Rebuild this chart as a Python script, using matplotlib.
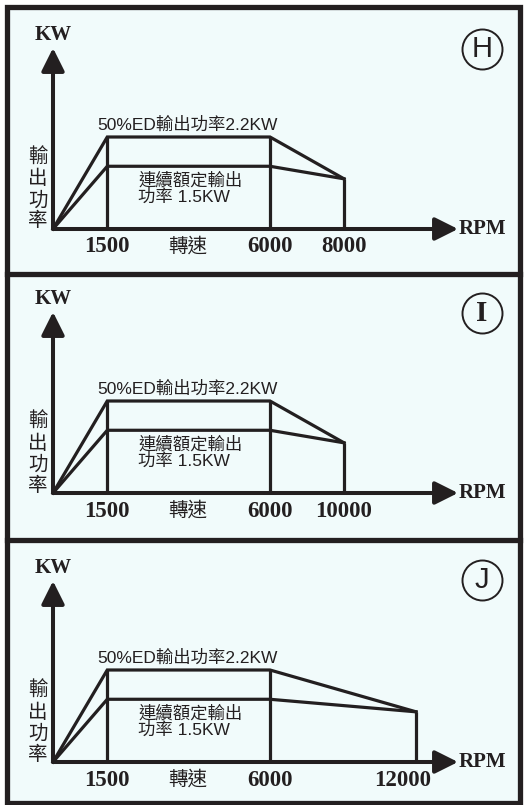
import numpy as np
import matplotlib
matplotlib.use('Agg')
import matplotlib.pyplot as plt
from matplotlib.patches import Rectangle
from matplotlib.lines import Line2D

# ---------------- data ----------------
panel_labels = ['H', 'I', 'J']
max_rpm = [8000, 10000, 12000]
base_rpm = 1500
rated_rpm = 6000
peak_kw = 2.2          # 50%ED output
cont_kw = 1.5          # continuous rated output
end_kw = [1.2, 1.2, 1.2]
tick_rpms = [[1500, 6000, 8000], [1500, 6000, 10000], [1500, 6000, 12000]]
peak_text = '50%ED輸出功率2.2KW'
cont_text = ['連續額定輸出', '功率 1.5KW']
y_title = ['輸', '出', '功', '率']
x_title = '轉速'

# ---------------- layout (pixels) ----------------
W, H = 525, 805
INK = '#231f20'
BG = '#f1fbfb'
panel_top = [7, 274.5, 540]
panel_bot = [274.5, 540, 803]
box_left, box_right = 7, 520
origin_x = 53
origin_y = [229, 493, 762]
px_rated = 217                 # px from origin to rated rpm
px_end = [291, 291, 363]       # px from origin to max rpm
px_per_kw = 92 / 2.2
x_tip_px = 458
y_tip_len = 181
circle_y = [49, 313, 580]
circle_x = 482
label_dx = [[0, 0, 0], [0, 0, 0], [0, 0, -13]]
letter_fonts = [dict(family='Liberation Sans', weight='normal', size=21),
                dict(family='Liberation Serif', weight='bold', size=21),
                dict(family='Liberation Sans', weight='normal', size=21)]

fig = plt.figure(figsize=(W / 100, H / 100), dpi=100, facecolor='white')

# frame
fig.add_artist(Rectangle((box_left / W, 1 - panel_bot[-1] / H),
                         (box_right - box_left) / W,
                         (panel_bot[-1] - panel_top[0]) / H,
                         transform=fig.transFigure, facecolor=BG,
                         edgecolor=INK, lw=3.8, zorder=0))
for yy in panel_bot[:-1]:
    fig.add_artist(Line2D([box_left / W, box_right / W], [1 - yy / H, 1 - yy / H],
                          transform=fig.transFigure, color=INK, lw=3.8, zorder=1))


def make_scale(end_rpm, end_px):
    s0 = px_rated / rated_rpm
    s1 = (end_px - px_rated) / (end_rpm - rated_rpm)

    def fwd(r):
        r = np.asarray(r, dtype=float)
        return np.where(r <= rated_rpm, r * s0, px_rated + (r - rated_rpm) * s1)

    def inv(p):
        p = np.asarray(p, dtype=float)
        return np.where(p <= px_rated, p / s0, rated_rpm + (p - px_rated) / s1)
    return fwd, inv


cjk = ['Noto Sans CJK TC']
mixed = ['Liberation Sans', 'Noto Sans CJK TC']

for i in range(3):
    top, bot, oy = panel_top[i], panel_bot[i], origin_y[i]
    ax = fig.add_axes([box_left / W, 1 - bot / H, (box_right - box_left) / W, (bot - top) / H])
    ax.set_facecolor('none')
    ax.axis('off')
    fwd, inv = make_scale(max_rpm[i], px_end[i])
    ax.set_xscale('function', functions=(fwd, inv))
    ax.set_xlim(float(inv(box_left - origin_x)), float(inv(box_right - origin_x)))
    ax.set_ylim(-(bot - oy) / px_per_kw, (oy - top) / px_per_kw)

    xs = [0, base_rpm, rated_rpm, max_rpm[i]]
    ax.plot(xs, [0, peak_kw, peak_kw, end_kw[i]], color=INK, lw=2.3,
            solid_joinstyle='miter', zorder=3)
    ax.plot(xs, [0, cont_kw, cont_kw, end_kw[i]], color=INK, lw=2.3,
            solid_joinstyle='miter', zorder=3)
    ax.vlines([base_rpm, rated_rpm], 0, peak_kw, color=INK, lw=2.3, zorder=3)
    ax.vlines([max_rpm[i]], 0, end_kw[i], color=INK, lw=2.3, zorder=3)

    x_tip = float(inv(x_tip_px - origin_x))
    y_tip = y_tip_len / px_per_kw
    ap = dict(arrowstyle='-|>,head_length=1.0,head_width=0.5', mutation_scale=14,
              lw=2.9, color=INK, shrinkA=0, shrinkB=0)
    ax.annotate('', xy=(x_tip, 0), xytext=(0, 0), arrowprops=ap, zorder=4)
    ax.annotate('', xy=(0, y_tip), xytext=(0, 0), arrowprops=ap, zorder=4)

    ax.annotate('KW', xy=(0, y_tip), xytext=(0, 3), textcoords='offset pixels',
                ha='center', va='bottom', family='Liberation Serif', weight='bold',
                fontsize=15, color=INK)
    ax.annotate('RPM', xy=(x_tip, 0), xytext=(1, 0), textcoords='offset pixels',
                ha='left', va='center', family='Liberation Serif', weight='bold',
                fontsize=15, color=INK)

    for r, dx in zip(tick_rpms[i], label_dx[i]):
        ax.annotate(str(r), xy=(r, 0), xytext=(dx, -18), textcoords='offset pixels',
                    ha='center', va='center', family='Liberation Serif', weight='bold',
                    fontsize=16.5, color=INK)
    ax.annotate(x_title, xy=(0, 0), xytext=(135, -17), textcoords='offset pixels',
                ha='center', va='center', family=cjk, weight='medium', fontsize=14,
                color=INK)

    for ch, dy in zip(y_title, [72, 50, 29, 8]):
        ax.annotate(ch, xy=(0, 0), xytext=(-15, dy), textcoords='offset pixels',
                    ha='center', va='center', family=cjk, weight='medium', fontsize=14,
                    color=INK)

    ax.annotate(peak_text, xy=(base_rpm, peak_kw), xytext=(-10, 12),
                textcoords='offset pixels', ha='left', va='center', family=mixed,
                fontsize=12.5, color=INK)
    for t, dy in zip(cont_text, [-14, -30]):
        ax.annotate(t, xy=(base_rpm, cont_kw), xytext=(31, dy),
                    textcoords='offset pixels', ha='left', va='center', family=mixed,
                    fontsize=12.5, color=INK)

    cy = circle_y[i]
    fig.add_artist(Line2D([circle_x / W], [1 - cy / H], transform=fig.transFigure,
                          marker='o', ms=28.8, mfc='none', mec=INK, mew=1.4))
    fig.text(circle_x / W, 1 - cy / H, panel_labels[i], ha='center', va='center',
             color=INK, **letter_fonts[i])

fig.savefig('out.png', dpi=100, facecolor='white')
